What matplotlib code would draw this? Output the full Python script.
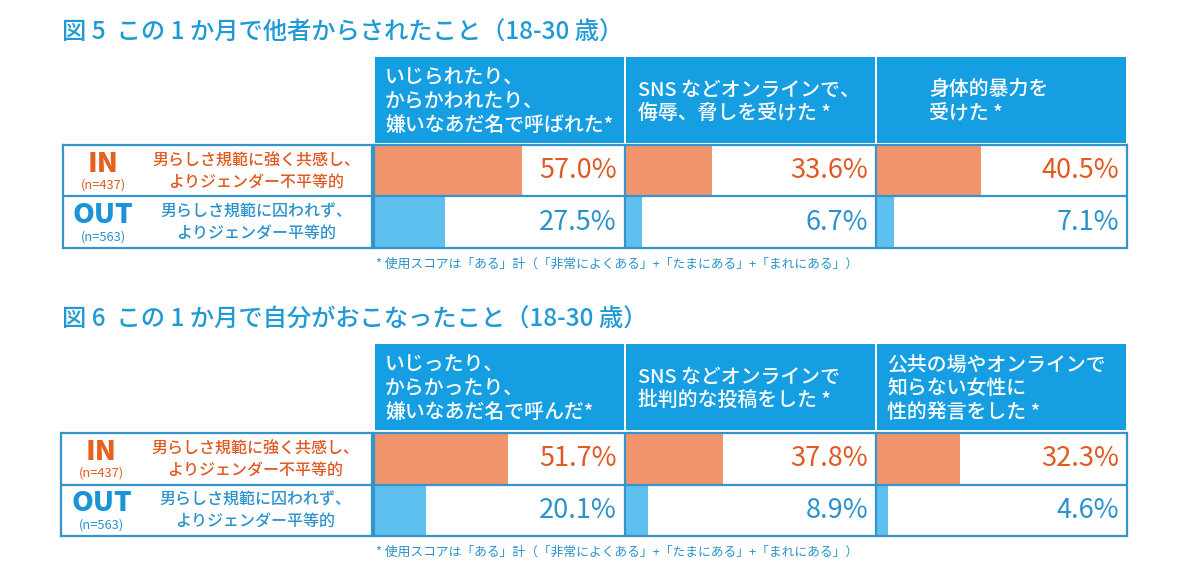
import matplotlib
matplotlib.use("Agg")
import matplotlib.pyplot as plt
from matplotlib.patches import Rectangle

plt.rcParams['font.family'] = ['Noto Sans CJK JP', 'DejaVu Sans']

# データ
titles = ["図 5  この 1 か月で他者からされたこと（18-30 歳）",
          "図 6  この 1 か月で自分がおこなったこと（18-30 歳）"]
headers_5 = [["いじられたり、", "からかわれたり、", "嫌いなあだ名で呼ばれた*"],
             ["SNS などオンラインで、", "侮辱、脅しを受けた *"],
             ["身体的暴力を", "受けた *"]]
headers_6 = [["いじったり、", "からかったり、", "嫌いなあだ名で呼んだ*"],
             ["SNS などオンラインで", "批判的な投稿をした *"],
             ["公共の場やオンラインで", "知らない女性に", "性的発言をした *"]]
in_5 = [57.0, 33.6, 40.5]
out_5 = [27.5, 6.7, 7.1]
in_6 = [51.7, 37.8, 32.3]
out_6 = [20.1, 8.9, 4.6]
groups = ["IN", "OUT"]
group_n = ["(n=437)", "(n=563)"]
group_desc = [["男らしさ規範に強く共感し、", "よりジェンダー不平等的"],
              ["男らしさ規範に囚われず、", "よりジェンダー平等的"]]
note = "* 使用スコアは「ある」計（「非常によくある」+「たまにある」+「まれにある」）"

# 色
hdr_blue = "#169ee2"
line_blue = "#3494cb"
bar_or = "#f0956b"
bar_bl = "#5ec0ef"
txt_or = "#e05a22"
txt_bl = "#2a92cc"
grp_or = "#e8601e"
grp_bl = "#1c93d6"

bar_scale = 1.035  # 棒の長さの倍率（列幅=100%より少し長め）

W, H = 1200, 581
fig = plt.figure(figsize=(12, 5.81), dpi=100)


def box(x0, y0, w, h):
    return [x0 / W, 1 - (y0 + h) / H, w / W, h / H]


def panel(title, headers, vin, vout, y_title, y_hdr, hdr_h, y_rows, rows_h, left_x):
    fig.text(62 / W, 1 - y_title / H, title, fontsize=17.5, fontweight='medium',
             color="#1f9ad6", va='center', ha='left')

    # ヘッダー
    axh = fig.add_axes(box(374, y_hdr, 753, hdr_h))
    axh.set_xlim(0, 3)
    axh.set_ylim(1, 0)
    axh.axis('off')
    for c in range(3):
        axh.add_patch(Rectangle((c + 0.004, 0), 0.992, 1, color=hdr_blue, lw=0))
        lines = headers[c]
        n = len(lines)
        if c == 0 or n == 3:
            x0 = c + 0.044
        elif c == 1:
            x0 = c + 0.05
        else:
            x0 = c + 0.21
        for i, s in enumerate(lines):
            yy = 0.52 + (i - (n - 1) / 2) * 0.275
            axh.text(x0, yy, s, color="white", fontsize=14.3, fontweight='medium',
                     ha='left', va='center')

    # 左ラベル
    axl = fig.add_axes(box(left_x, y_rows, 372 - left_x, rows_h))
    axl.set_xlim(0, 1)
    axl.set_ylim(2, 0)
    axl.set_xticks([])
    axl.set_yticks([])
    for sp in axl.spines.values():
        sp.set_color(line_blue)
        sp.set_linewidth(1.6)
    axl.axhline(1, color=line_blue, lw=1.6)
    for r in range(2):
        gc = grp_or if r == 0 else grp_bl
        tc = txt_or if r == 0 else txt_bl
        axl.text(0.13, r + 0.36, groups[r], color=gc, fontsize=20, fontweight='black',
                 ha='center', va='center')
        axl.text(0.13, r + 0.78, group_n[r], color=tc, fontsize=9.3,
                 ha='center', va='center')
        axl.text(0.625, r + 0.31, group_desc[r][0], color=tc, fontsize=11.5,
                 fontweight='medium', ha='center', va='center')
        axl.text(0.625, r + 0.72, group_desc[r][1], color=tc, fontsize=11.5,
                 fontweight='medium', ha='center', va='center')

    # データ
    ax = fig.add_axes(box(374, y_rows, 753, rows_h))
    ax.set_xlim(0, 300)
    ax.set_ylim(2, 0)
    ax.set_xticks([])
    ax.set_yticks([])
    for sp in ax.spines.values():
        sp.set_color(line_blue)
        sp.set_linewidth(1.6)
    cols = [0, 100, 200]
    ax.barh([0] * 3, [v * bar_scale for v in vin], left=cols, height=1,
            color=bar_or, align='edge')
    ax.barh([1] * 3, [v * bar_scale for v in vout], left=cols, height=1,
            color=bar_bl, align='edge')
    ax.axhline(1, color=line_blue, lw=1.6)
    for c in (100, 200):
        ax.axvline(c, color=line_blue, lw=1.6)
    for c in range(3):
        ax.text(cols[c] + 96.8, 0.5, f"{vin[c]:.1f}%", color=txt_or, fontsize=19.5,
                ha='right', va='center')
        ax.text(cols[c] + 96.8, 1.5, f"{vout[c]:.1f}%", color=txt_bl, fontsize=19.5,
                ha='right', va='center')

    fig.text(376 / W, 1 - (y_rows + rows_h + 16) / H, note, fontsize=9.2,
             color=txt_bl, ha='left', va='center')


panel(titles[0], headers_5, in_5, out_5, 33, 57, 86, 145, 103, 63)
panel(titles[1], headers_6, in_6, out_6, 320, 344, 86, 433, 103, 61)

fig.savefig("out.png", dpi=100, facecolor="white")
